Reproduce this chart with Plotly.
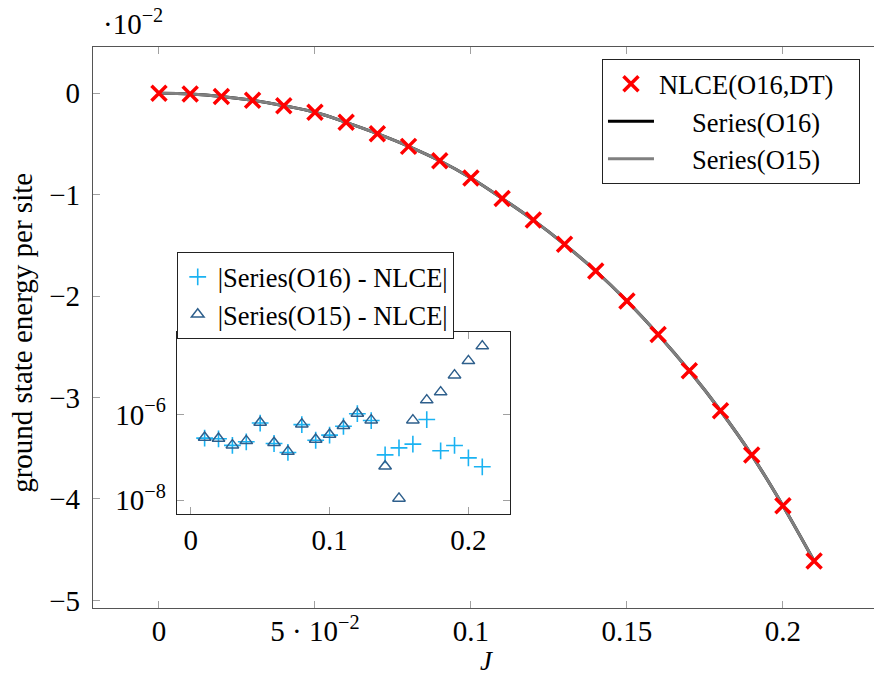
import plotly.graph_objects as go

# ---------------- data ----------------
J = [0.00, 0.01, 0.02, 0.03, 0.04, 0.05, 0.06, 0.07, 0.08, 0.09, 0.10,
     0.11, 0.12, 0.13, 0.14, 0.15, 0.16, 0.17, 0.18, 0.19, 0.20, 0.21]

# ground state energy per site, in units of 10^-2
nlce_o16_dt = [0.000, -0.007, -0.030, -0.069, -0.122, -0.187, -0.286, -0.398,
               -0.523, -0.665, -0.835, -1.036, -1.250, -1.489, -1.752, -2.048,
               -2.377, -2.736, -3.130, -3.567, -4.067, -4.612]
series_o16 = [0.000, -0.007, -0.030, -0.069, -0.122, -0.187, -0.286, -0.398,
              -0.523, -0.665, -0.835, -1.036, -1.250, -1.489, -1.752, -2.048,
              -2.377, -2.736, -3.130, -3.567, -4.067, -4.612]
series_o15 = [0.000, -0.007, -0.030, -0.069, -0.122, -0.187, -0.286, -0.398,
              -0.523, -0.665, -0.835, -1.036, -1.250, -1.489, -1.752, -2.048,
              -2.377, -2.736, -3.130, -3.567, -4.067, -4.612]

# inset: absolute differences
J_inset = [0.01, 0.02, 0.03, 0.04, 0.05, 0.06, 0.07, 0.08, 0.09, 0.10, 0.11,
           0.12, 0.13, 0.14, 0.15, 0.16, 0.17, 0.18, 0.19, 0.20, 0.21]
diff_o16 = [2.8e-7, 2.7e-7, 1.9e-7, 2.3e-7, 6.3e-7, 2.1e-7, 1.3e-7, 5.8e-7,
            2.5e-7, 3.3e-7, 5.3e-7, 1.04e-6, 7.2e-7, 1.14e-7, 1.66e-7,
            2.03e-7, 7.6e-7, 1.42e-7, 1.89e-7, 9.7e-8, 6.0e-8]
diff_o15 = [2.9e-7, 2.75e-7, 1.92e-7, 2.42e-7, 6.5e-7, 2.19e-7, 1.36e-7, 5.94e-7,
            2.6e-7, 3.4e-7, 5.43e-7, 1.05e-6, 7.36e-7, 6.2e-8, 1.1e-8,
            7.36e-7, 2.16e-6, 3.32e-6, 8.26e-6, 1.78e-5, 3.93e-5]

x_ticks = [0, 0.05, 0.1, 0.15, 0.2]
x_ticktext = ["0", "5 · 10<sup>−2</sup>", "0.1", "0.15", "0.2"]
y_ticks = [0, -1, -2, -3, -4, -5]
inset_x_ticks = [0, 0.1, 0.2]
inset_x_ticktext = ["0", "0.1", "0.2"]
inset_y_ticks = [1e-8, 1e-6]
inset_y_ticktext = ["10<sup>−8</sup>", "10<sup>−6</sup>"]

FONT = "Liberation Serif, DejaVu Serif, serif"
FS = 29
LFS = 26.5

NB = "\u00a0"

fig = go.Figure()

fig.add_trace(go.Scatter(
    x=J, y=series_o16, mode="lines", name=NB * 5 + "Series(O16)",
    line=dict(color="black", width=3, shape="spline"), legendrank=2,
    xaxis="x", yaxis="y"))
fig.add_trace(go.Scatter(
    x=J, y=series_o15, mode="lines", name=NB * 5 + "Series(O15)",
    line=dict(color="#808080", width=3, shape="spline"), legendrank=3,
    xaxis="x", yaxis="y"))
fig.add_trace(go.Scatter(
    x=J, y=nlce_o16_dt, mode="markers", name="NLCE(O16,DT)" + NB * 3,
    marker=dict(symbol="x-thin", size=15, line=dict(color="red", width=3.5), color="red"),
    legendrank=1, xaxis="x", yaxis="y"))

fig.add_trace(go.Scatter(
    x=J_inset, y=diff_o16, mode="markers", name="|Series(O16) - NLCE|",
    marker=dict(symbol="cross-thin", size=12, line=dict(color="#1ab2f2", width=1.6), color="#1ab2f2"),
    xaxis="x2", yaxis="y2", legend="legend2", legendrank=1))
fig.add_trace(go.Scatter(
    x=J_inset, y=diff_o15, mode="markers", name="|Series(O15) - NLCE|",
    marker=dict(symbol="triangle-up-open", size=11, line=dict(color="#2e5f8c", width=1.5), color="#2e5f8c"),
    xaxis="x2", yaxis="y2", legend="legend2", legendrank=2))

axis_common = dict(ticks="inside", ticklen=7, tickwidth=1, tickcolor="#a0a0a0",
                   showgrid=False, zeroline=False, showline=True,
                   tickfont=dict(family=FONT, size=FS, color="black"))

fig.update_layout(
    width=874, height=677,
    margin=dict(l=93, r=0, t=47, b=69, pad=0),
    paper_bgcolor="white", plot_bgcolor="white",
    font=dict(family=FONT, size=FS, color="black"),
    xaxis=dict(domain=[0, 1], range=[-0.02115, 0.2292], tickvals=x_ticks, ticktext=x_ticktext,
               mirror="ticks", linecolor="#555555", linewidth=1.2, ticklabelstandoff=-3,
               **axis_common),
    yaxis=dict(domain=[0, 1], range=[-5.075, 0.457], tickvals=y_ticks,
               mirror=False, linecolor="#555555", linewidth=1.2, ticklabelstandoff=6,
               **axis_common),
    xaxis2=dict(domain=[0.1072, 0.534], range=[-0.0101, 0.2300], anchor="y2",
                tickvals=inset_x_ticks, ticktext=inset_x_ticktext,
                mirror="ticks", linecolor="#222222", linewidth=1.2, **axis_common),
    yaxis2=dict(domain=[0.167, 0.4917], type="log", range=[-8.33, -4.08], anchor="x2",
                tickvals=inset_y_ticks, ticktext=inset_y_ticktext,
                mirror="ticks", linecolor="#222222", linewidth=1.2, ticklabelstandoff=4,
                **axis_common),
    legend=dict(x=0.6517, y=0.9786, xanchor="left", yanchor="top",
                bgcolor="white", bordercolor="#222222", borderwidth=1,
                font=dict(family=FONT, size=LFS), itemwidth=46, tracegroupgap=0),
    legend2=dict(x=0.1072, y=0.6344, xanchor="left", yanchor="top",
                 bgcolor="white", bordercolor="#222222", borderwidth=1,
                 font=dict(family=FONT, size=LFS), itemwidth=30, tracegroupgap=0),
    showlegend=True,
)

fig.add_annotation(text="·10<sup>−2</sup>", xref="paper", yref="paper",
                   x=(101 - 93) / 781, y=(607.7 - 22) / 560.7, xanchor="left", yanchor="middle",
                   showarrow=False, font=dict(family=FONT, size=FS))
fig.add_annotation(text="ground state energy per site", xref="paper", yref="paper",
                   x=(21.7 - 93) / 781, y=(607.7 - 333) / 560.7, xanchor="center", yanchor="middle",
                   textangle=-90, showarrow=False, font=dict(family=FONT, size=FS))
fig.add_annotation(text="<i>J</i>", xref="paper", yref="paper",
                   x=(487 - 93) / 781, y=(607.7 - 661) / 560.7, xanchor="center", yanchor="middle",
                   showarrow=False, font=dict(family=FONT, size=27))

fig.write_html("out.html", config={"displayModeBar": False},
               post_script="document.body.style.margin='0';")
